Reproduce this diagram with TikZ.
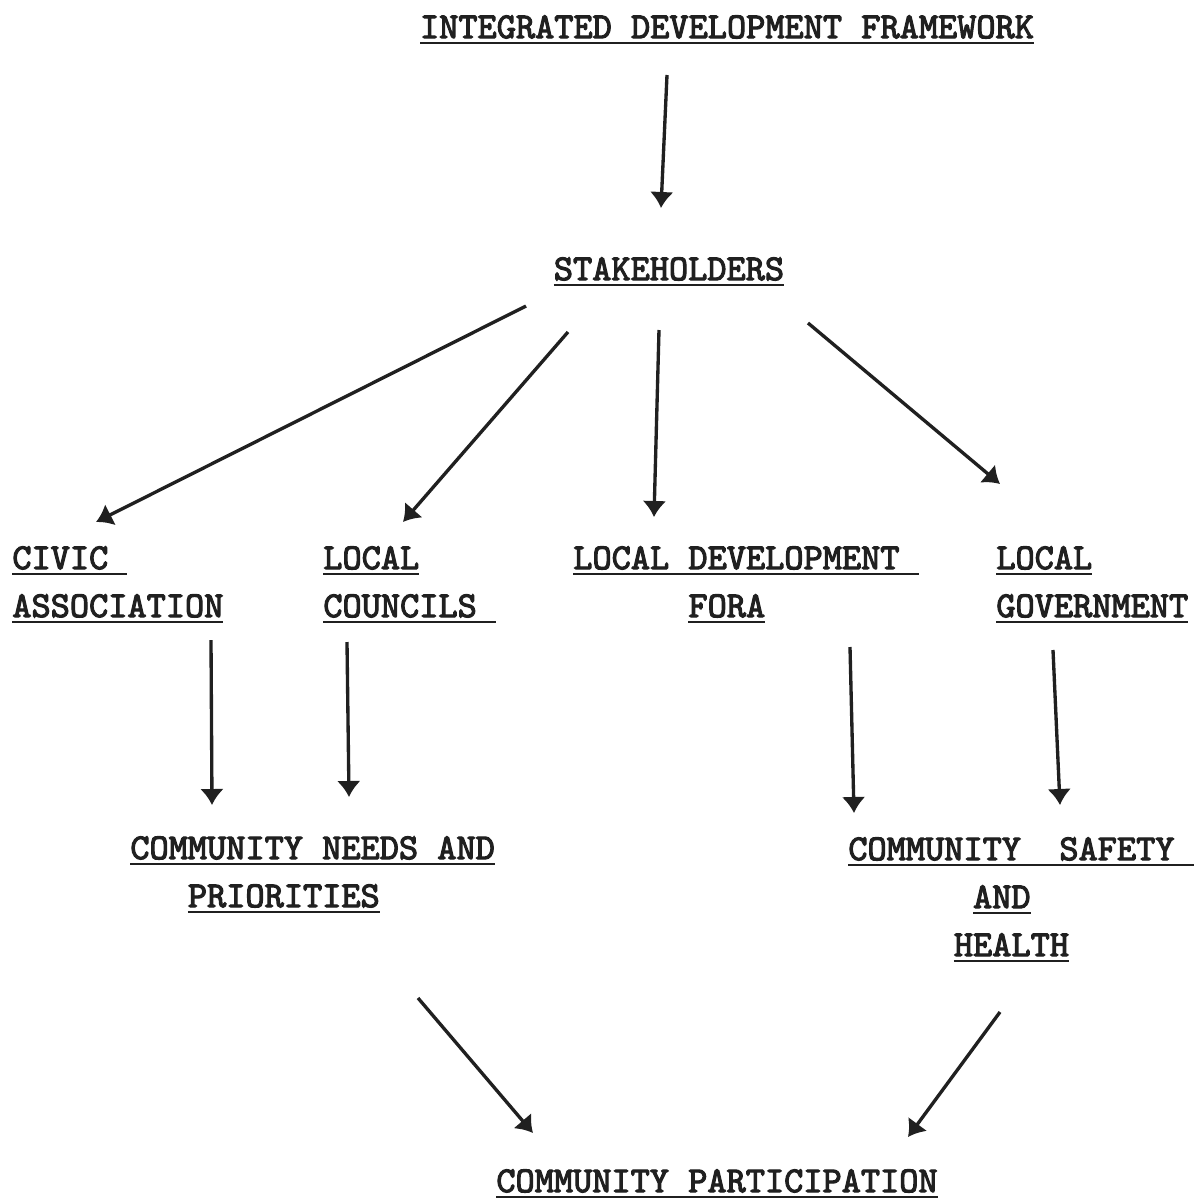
\documentclass[tikz,border=0pt]{standalone}
\usepackage{fontspec}
\usepackage{tikz}
\usetikzlibrary{arrows.meta,calc}
\usepackage{xcolor}
\newfontfamily\typefont[FakeBold=3]{lmmono10-regular.otf}
\definecolor{typeink}{RGB}{32,32,32}
\newsavebox\ulbox
\newcommand\undl[1]{\sbox\ulbox{#1}\rlap{\rule[-3.6pt]{\wd\ulbox}{1.6pt}}\usebox\ulbox}
\newcommand\skipch[1]{\hspace*{#1\dimexpr 10.92pt\relax}}
\tikzset{
    typed/.style={
        inner sep=0pt,align=left,text=typeink,
        font=\fontsize{20.8}{27.3}\selectfont\typefont
    },
    arrow/.style={
        -{Latex[length=3.2mm,width=4.8mm]},line width=1.9pt,draw=typeink
    }
}
\begin{document}
\begin{tikzpicture}[x=0.02cm,y=-0.02cm]
\useasboundingbox[fill=white] (0,0) rectangle (1195,1201);

\node[typed,anchor=north] (frame) at (727,15) {\undl{INTEGRATED DEVELOPMENT FRAMEWORK}};
\node[typed,anchor=north] (stake) at (669,257) {\undl{STAKEHOLDERS}};

\node[typed,anchor=north west] (civic) at (12,546) {\undl{CIVIC~}\\\undl{ASSOCIATION}};
\node[typed,anchor=north west] (council) at (323,546) {\undl{LOCAL}\\\undl{COUNCILS~}};
\node[typed,anchor=north west] (fora) at (573,546) {\undl{LOCAL DEVELOPMENT~}\\\skipch{6}\undl{FORA}};
\node[typed,anchor=north west] (govt) at (996,546) {\undl{LOCAL}\\\undl{GOVERNMENT}};

\node[typed,anchor=north west] (needs) at (130,836) {\undl{COMMUNITY NEEDS AND}\\\skipch{3}\undl{PRIORITIES}};
\node[typed,anchor=north west] (safety) at (848,837) {\undl{COMMUNITY~~SAFETY~}\\\skipch{6.5}\undl{AND}\\\skipch{5.5}\undl{HEALTH}};

\node[typed,anchor=north] (part) at (717,1169) {\undl{COMMUNITY PARTICIPATION}};

% stakeholders and what they feed
\draw[arrow] ($(frame.north)+(-60,60)$) -- ($(stake.north)+(-8,-49)$);
\draw[arrow] ($(stake.north)+(-143,49)$) -- ($(civic.north west)+(84,-24)$);
\draw[arrow] ($(stake.north)+(-101,75)$) -- ($(council.north west)+(80,-24)$);
\draw[arrow] ($(stake.north)+(-10,73)$) -- ($(fora.north west)+(81,-29)$);
\draw[arrow] ($(stake.north)+(139,66)$) -- ($(govt.north west)+(4,-62)$);

\draw[arrow] ($(civic.north west)+(199,94)$) -- ($(needs.north west)+(82,-31)$);
\draw[arrow] ($(council.north west)+(24,96)$) -- ($(needs.north west)+(219,-39)$);
\draw[arrow] ($(fora.north west)+(277,101)$) -- ($(safety.north west)+(6,-24)$);
\draw[arrow] ($(govt.north west)+(57,104)$) -- ($(safety.north west)+(212,-32)$);

\draw[arrow] ($(needs.north west)+(288,162)$) -- ($(part.north)+(-184,-36)$);
\draw[arrow] ($(safety.north west)+(152,175)$) -- ($(part.north)+(191,-32)$);
\end{tikzpicture}
\end{document}
